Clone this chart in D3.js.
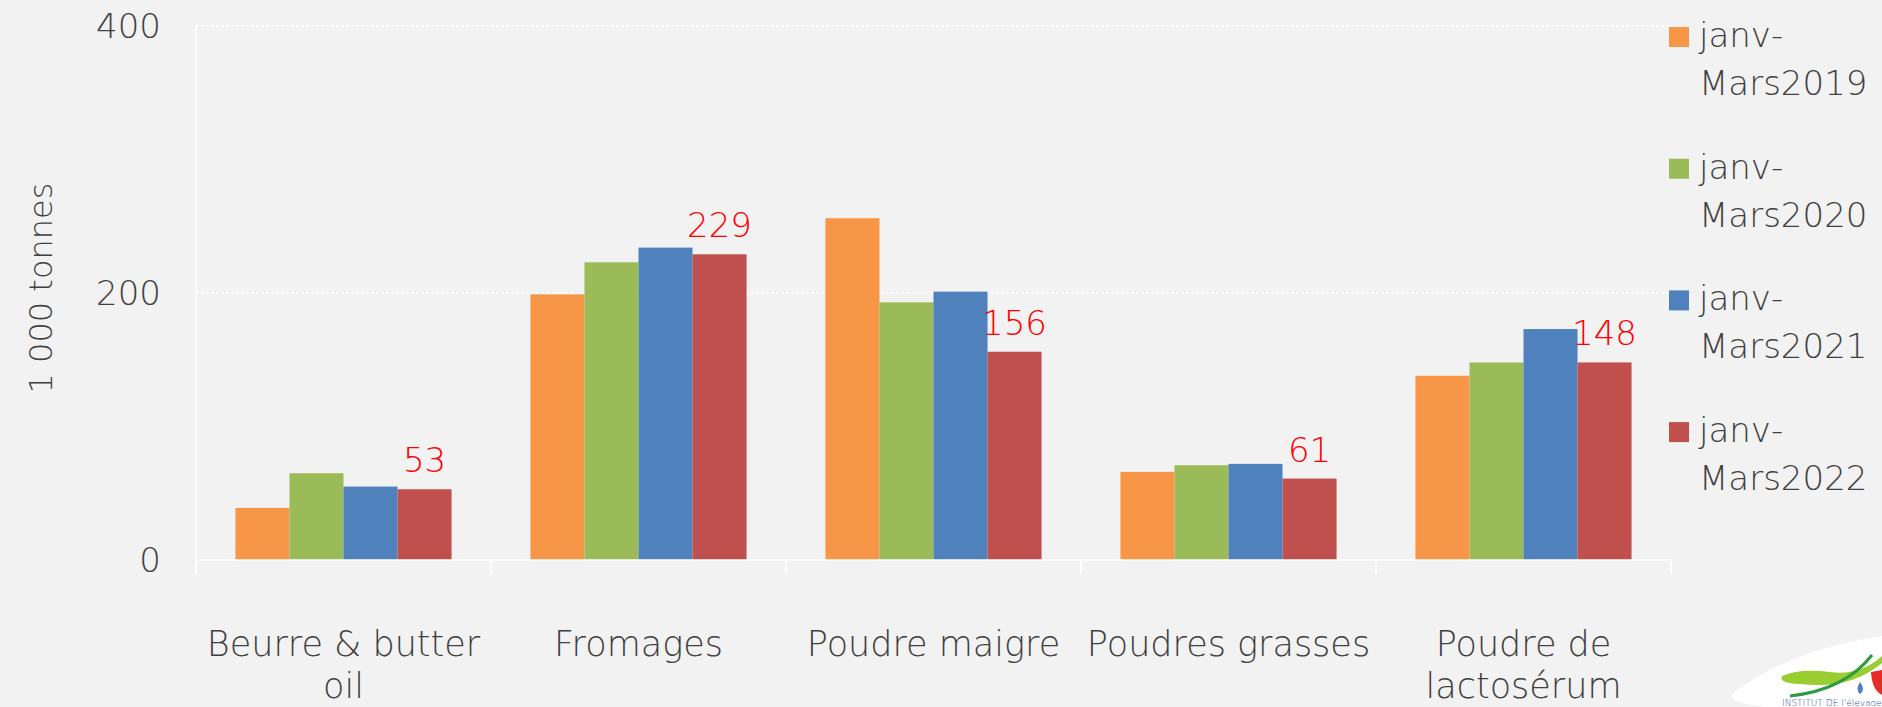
<!DOCTYPE html>
<html>
<head>
<meta charset="utf-8">
<script src="https://cdn.jsdelivr.net/npm/d3@7"></script>
<style>
  html, body { margin: 0; padding: 0; background: #f2f2f2; }
  svg { display: block; }
  text { font-family: "DejaVu Sans", sans-serif; font-weight: 200; }
</style>
</head>
<body>
<svg id="chart" width="1882" height="707"></svg>
<script>
// categories (each entry = lines of the label)
const categories = ["Beurre & butter oil", "Fromages", "Poudre maigre", "Poudres grasses", "Poudre de lactosérum"];
const categoryLines = [["Beurre & butter", "oil"], ["Fromages"], ["Poudre maigre"], ["Poudres grasses"], ["Poudre de", "lactosérum"]];
const series = ["janv-Mars2019", "janv-Mars2020", "janv-Mars2021", "janv-Mars2022"];
const colors = ["#f79646", "#9bbb59", "#4f81bd", "#c0504d"];

const v2019 = [39, 199, 256, 66, 138];
const v2020 = [65, 223, 193, 71, 148];
const v2021 = [55, 234, 201, 72, 173];
const v2022 = [53, 229, 156, 61, 148];
const yTicks = [0, 200, 400];

const values = [v2019, v2020, v2021, v2022];

const svg = d3.select("#chart");
const W = 1882, H = 707;
const mLeft = 196, mRight = 1671, mTop = 26, mBottom = 560;

svg.append("rect").attr("width", W).attr("height", H).attr("fill", "#f2f2f2");

const x0 = d3.scaleBand().domain(categories).range([mLeft, mRight]).padding(0);
const x1 = d3.scaleBand().domain(series).range([0, x0.bandwidth()]).paddingInner(0).paddingOuter(0.73);
const y = d3.scaleLinear().domain([0, 400]).range([mBottom, mTop]);

// grid lines
svg.append("g").selectAll("line").data(yTicks.filter(d => d > 0)).join("line")
  .attr("x1", mLeft).attr("x2", mRight)
  .attr("y1", d => y(d)).attr("y2", d => y(d))
  .attr("stroke", "#ffffff").attr("stroke-width", 1.5).attr("stroke-dasharray", "3,2");

// y axis
const yAxis = svg.append("g").attr("transform", `translate(${mLeft},0)`)
  .call(d3.axisLeft(y).tickValues(yTicks).tickSize(0).tickPadding(35));
yAxis.select(".domain").remove();
yAxis.selectAll("text").attr("font-size", 34).attr("fill", "#404040")
  .attr("font-family", "DejaVu Sans").attr("font-weight", 200).attr("dy", "0.35em");
svg.append("line").attr("x1", mLeft).attr("x2", mLeft).attr("y1", mTop).attr("y2", mBottom + 14)
  .attr("stroke", "#ffffff").attr("stroke-width", 1.5);

// bars
const groups = svg.append("g").selectAll("g").data(categories).join("g")
  .attr("transform", d => `translate(${x0(d)},0)`);
groups.selectAll("rect").data((c, i) => series.map((s, j) => ({ s, j, v: values[j][i] }))).join("rect")
  .attr("x", d => x1(d.s)).attr("width", x1.bandwidth())
  .attr("y", d => y(d.v)).attr("height", d => mBottom - y(d.v))
  .attr("fill", d => colors[d.j]);

// labels on last series
groups.append("text")
  .attr("x", x1(series[3]) + x1.bandwidth() / 2)
  .attr("y", (c, i) => y(v2022[i]) - 17)
  .attr("text-anchor", "middle").attr("font-size", 34).attr("fill", "#ff0000")
  .text((c, i) => v2022[i]);

// x axis line + ticks
svg.append("line").attr("x1", mLeft).attr("x2", mRight).attr("y1", mBottom).attr("y2", mBottom)
  .attr("stroke", "#ffffff").attr("stroke-width", 1.5);
svg.append("g").selectAll("line").data(categories.concat(["end"])).join("line")
  .attr("x1", (d, i) => mLeft + i * x0.step()).attr("x2", (d, i) => mLeft + i * x0.step())
  .attr("y1", mBottom).attr("y2", mBottom + 14)
  .attr("stroke", "#ffffff").attr("stroke-width", 1.5);

// category labels
svg.append("g").selectAll("text").data(categories).join("text")
  .attr("x", d => x0(d) + x0.bandwidth() / 2).attr("y", 656)
  .attr("text-anchor", "middle").attr("font-size", 35).attr("fill", "#404040")
  .each(function (d, i) {
    d3.select(this).selectAll("tspan").data(categoryLines[i]).join("tspan")
      .attr("x", x0(d) + x0.bandwidth() / 2).attr("dy", (l, k) => k === 0 ? 0 : 42).text(l => l);
  });

// y title
svg.append("text").attr("transform", "translate(52,288) rotate(-90)")
  .attr("text-anchor", "middle").attr("font-size", 32).attr("fill", "#404040")
  .text("1 000 tonnes");

// legend
const leg = svg.append("g").selectAll("g").data(series).join("g")
  .attr("transform", (d, i) => `translate(1669,${27 + i * 131.7})`);
leg.append("rect").attr("width", 20).attr("height", 20).attr("fill", (d, i) => colors[i]);
leg.append("text").attr("x", 30).attr("y", 20).attr("font-size", 34).attr("fill", "#404040")
  .each(function (d) {
    const parts = [d.slice(0, 5), d.slice(5)];
    d3.select(this).selectAll("tspan").data(parts).join("tspan")
      .attr("x", 30).attr("dy", (l, k) => k === 0 ? 0 : 48).text(l => l);
  });

// logo corner (decorative)
const logo = svg.append("g");
logo.append("path").attr("d", "M1735,692 Q1790,650 1882,636 L1882,707 L1765,707 Q1722,702 1735,692 Z").attr("fill", "#ffffff");
logo.append("path").attr("d", "M1782,676 Q1800,668 1830,672 Q1860,676 1882,656 L1882,663 Q1850,690 1800,684 Q1778,683 1782,676 Z").attr("fill", "#9acd32");
logo.append("path").attr("d", "M1790,696 Q1845,690 1872,655").attr("fill", "none").attr("stroke", "#2e9b3e").attr("stroke-width", 3);
logo.append("path").attr("d", "M1860,682 Q1855,690 1860,694 Q1866,690 1860,682 Z").attr("fill", "#4f7fc4");
logo.append("path").attr("d", "M1871,672 L1882,670 L1882,695 Q1872,690 1871,672 Z").attr("fill", "#e52d27");
logo.append("text").attr("x", 1782).attr("y", 706).attr("font-size", 9).attr("font-weight", 700)
  .attr("fill", "#1f4e9a").text("INSTITUT DE l'élevage");
</script>
</body>
</html>
